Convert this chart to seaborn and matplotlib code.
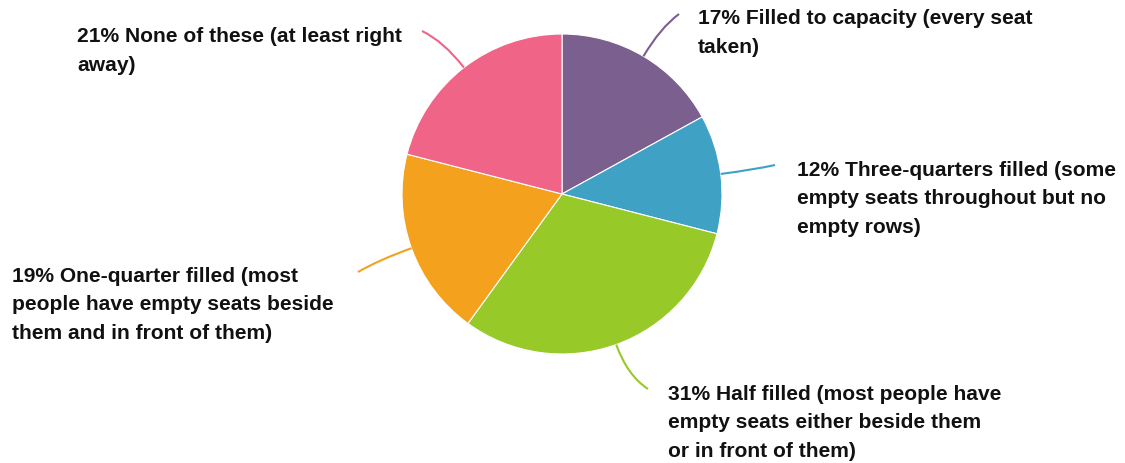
import numpy as np
import matplotlib
matplotlib.use("Agg")
import matplotlib.pyplot as plt
from matplotlib.path import Path
from matplotlib.patches import PathPatch
import seaborn as sns

categories = [
    "Filled to capacity (every seat\ntaken)",
    "Three-quarters filled (some\nempty seats throughout but no\nempty rows)",
    "Half filled (most people have\nempty seats either beside them\nor in front of them)",
    "One-quarter filled (most\npeople have empty seats beside\nthem and in front of them)",
    "None of these (at least right\naway)",
]
values = [17, 12, 31, 19, 21]
colors = ["#7B5F8E", "#3FA2C4", "#97C928", "#F4A21D", "#F06488"]

sns.set_theme(style="white")
plt.rcParams['font.family'] = ['Liberation Sans', 'DejaVu Sans']

W, H = 1125, 464
fig = plt.figure(figsize=(W / 100, H / 100), dpi=100)
ax = fig.add_axes([0, 0, 1, 1])

cx, cy, r = 562, H - 195, 160
wedges, _ = ax.pie(values, colors=colors, startangle=90, counterclock=False,
                   center=(cx, cy), radius=r, frame=True,
                   wedgeprops=dict(edgecolor='white', linewidth=0.8))
ax.set_xlim(0, W)
ax.set_ylim(0, H)
ax.set_aspect('equal')
ax.axis('off')

# label layout: (line end x, line end y in px-from-top, text x, text center y)
layout = [
    (679, 15, 698, 33),
    (775, 166, 797, 199),
    (648, 390, 668, 423),
    (358, 273, 12, 305),
    (422, 32, 77, 51),
]

for w, val, cat, col, (ex, ey, tx, ty) in zip(wedges, values, categories, colors, layout):
    ang = np.deg2rad((w.theta1 + w.theta2) / 2)
    ux, uy = np.cos(ang), np.sin(ang)
    sx, sy = cx + r * ux, cy + r * uy
    ey_d = H - ey
    dist = np.hypot(ex - sx, ey_d - sy)
    t = 0.6 * dist
    ctrl_x, ctrl_y = sx + ux * t, sy + uy * t
    path = Path([(sx, sy), (ctrl_x, ctrl_y), (ex, ey_d)],
                [Path.MOVETO, Path.CURVE3, Path.CURVE3])
    ax.add_patch(PathPatch(path, facecolor='none', edgecolor=col, lw=1.5))
    ax.text(tx, H - ty, f"{val}% {cat}", ha='left', va='center', fontsize=15.1,
            fontweight='bold', color='#111111', linespacing=1.62)

fig.savefig("out.png", dpi=100)
